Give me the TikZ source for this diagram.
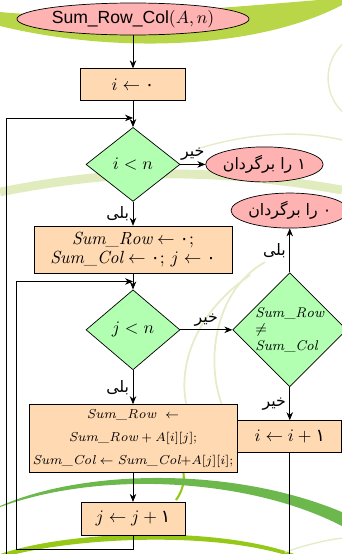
\documentclass[tikz,border=0pt]{standalone}
\usepackage{amsmath}
\usepackage{fontspec}
\usetikzlibrary{arrows.meta, positioning, shapes.geometric, calc}
\TeXXeTstate=1
\newfontfamily\fafont[Script=Arabic]{DejaVu Sans}
\newfontfamily\titlefont{Liberation Sans}
\newcommand{\fa}[1]{{\fafont\beginR #1\endR}}
\newcommand{\pzero}{\mbox{\fafont ۰}}
\newcommand{\pone}{\mbox{\fafont ۱}}
\newcommand{\vname}[1]{\mathit{#1}}
\definecolor{bglime}{RGB}{184,214,72}
\definecolor{bgleaf}{RGB}{150,200,24}
\definecolor{bgdark}{RGB}{108,184,76}
\definecolor{bgpale}{RGB}{224,236,190}
\definecolor{bgfaint}{RGB}{228,236,200}

\begin{document}
\begin{tikzpicture}[
      terminal/.style={ellipse, draw=black, fill=red!30, inner sep=0pt},
      process/.style={rectangle, draw=black, fill=orange!30, inner sep=2pt},
      decision/.style={diamond, draw=black, fill=green!30, inner sep=0pt},
      edge/.style={-{Stealth[length=1.6mm, width=1.3mm]}},
      answer/.style={font=\fafont\small, inner sep=2pt}
    ]
    \useasboundingbox (0,0) rectangle (6.84,-11.08);
    % background swooshes
    \begin{scope}[x=0.02cm, y=-0.02cm]
      \clip (0,0) rectangle (342,554);
      \fill[bglime] (0,12) .. controls (80,20) and (200,10) .. (342,-2)
        -- (342,5) .. controls (260,48) and (120,55) .. (0,26) -- cycle;
      \draw[bgfaint, line width=0.8pt] (375,78) circle (47);
      \draw[bgfaint, line width=0.8pt] (200,148) .. controls (260,130) and (310,132) .. (342,140);
      \draw[bgpale, line width=5pt] (0,192) .. controls (100,172) and (200,165) .. (342,190);
      \draw[bgfaint, line width=1pt] (265,262) .. controls (215,290) and (205,360) .. (222,405);
      \draw[bgfaint, line width=1pt] (250,275) .. controls (185,320) and (178,380) .. (188,410);
      \draw[bgleaf, line width=1.2pt] (183,470) .. controls (185,480) and (183,490) .. (176,500);
      \fill[bgdark] (0,506) .. controls (80,470) and (230,465) .. (342,512)
        -- (342,526) .. controls (250,478) and (100,470) .. (0,507) -- cycle;
      \fill[bgleaf] (0,554) .. controls (70,530) and (220,525) .. (300,556)
        -- (295,558) .. controls (220,531) and (75,536) .. (0,558) -- cycle;
      \draw[bgfaint, line width=0.8pt] (285,552) .. controls (305,545) and (325,540) .. (342,538);
    \end{scope}
    % flowchart
    \node[terminal, minimum width=4.64cm, minimum height=0.64cm, font=\titlefont] (start) at (2.66,-0.38) {Sum\_Row\_Col$(A,n)$};
    \node[process, minimum width=2.1cm, minimum height=0.64cm, below=0.66cm of start] (init) {$i \leftarrow \pzero$};
    \node[decision, minimum width=1.88cm, minimum height=1.48cm, below=0.52cm of init] (outer) {$i < n$};
    \node[terminal, minimum width=2.24cm, minimum height=0.7cm, font=\fafont\small, right=0.5cm of outer] (retone) {\fa{۱ را برگردان}};
    \node[process, minimum width=3.96cm, minimum height=0.94cm, align=center, below=0.48cm of outer] (reset) {$\vname{Sum\_Row} \leftarrow \pzero;$\\[-1pt] $\vname{Sum\_Col} \leftarrow \pzero;\, j \leftarrow \pzero$};
    \node[decision, minimum width=1.88cm, minimum height=1.6cm, below=0.32cm of reset] (inner) {$j < n$};
    \node[decision, minimum width=2.24cm, minimum height=2.18cm, align=left, font=\footnotesize, right=1.04cm of inner] (check) {$\vname{Sum\_Row}$\\ $\neq$\\ $\vname{Sum\_Col}$};
    \node[terminal, minimum width=2.2cm, minimum height=0.7cm, font=\fafont\small, above=0.88cm of check] (retzero) {\fa{۰ را برگردان}};
    \node[process, minimum width=2.08cm, minimum height=0.64cm, below=0.66cm of check] (nexti) {$i \leftarrow i + \pone$};
    \node[process, minimum width=3.96cm, minimum height=1.36cm, align=center, font=\fontsize{7.4}{10}\selectfont, below=0.68cm of inner] (accum) {$\vname{Sum\_Row} \ \leftarrow$\\[3pt] $\vname{Sum\_Row} + A[i][j];$\\[3pt] $\vname{Sum\_Col} \leftarrow \vname{Sum\_Col}{+}A[j][i];$};
    \node[process, minimum width=2.08cm, minimum height=0.66cm, below=0.58cm of accum] (nextj) {$j \leftarrow j + \pone$};
    % connectors
    \draw[edge] (start) -- (init);
    \draw[edge] (init) -- (outer);
    \draw[edge] (outer) -- node[answer, above] {\fa{خیر}} (retone);
    \draw[edge] (outer) -- node[answer, left] {\fa{بلی}} (reset);
    \draw[edge] (reset) -- (inner);
    \draw[edge] (inner) -- node[answer, above] {\fa{خیر}} (check);
    \draw[edge] (inner) -- node[answer, left] {\fa{بلی}} (accum);
    \draw[edge] (check) -- node[answer, left] {\fa{بلی}} (retzero);
    \draw[edge] (check) -- node[answer, left] {\fa{خیر}} (nexti);
    \draw[edge] (accum) -- (nextj);
    % loops
    \coordinate (jloop) at ($(reset.south)!0.5!(inner.north)$);
    \coordinate (iloop) at ($(init.south)!0.65!(outer.north)$);
    \coordinate (bottom) at (0.13,-11.2);
    \draw[edge] (nextj.south) -- ++(0,-0.28) -| ($(jloop)+(-2.34,0)$) -- (jloop);
    \draw[edge] (bottom) |- (iloop);
    \draw (nexti) -- (nexti.south |- bottom);
  \end{tikzpicture}
\end{document}
